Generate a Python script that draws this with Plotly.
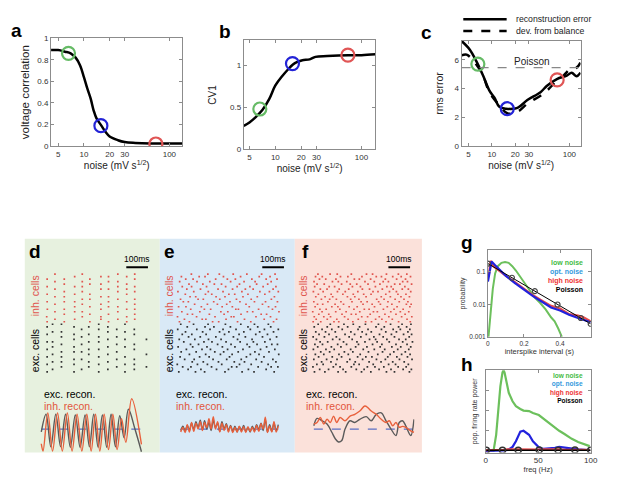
import plotly.graph_objects as go

W, H = 617, 480
FONT = "Liberation Sans, Arial, sans-serif"

# ---------------- data: noise sweep (panels a, b, c) ----------------
marked_noise = [6.6, 15.8, 69.5]
marked_colors = ["#66bb66", "#2323d6", "#e05555"]

a_noise = [4.1, 5, 6, 7, 8, 9, 10, 11, 12, 13, 14, 16, 18, 20, 25, 30, 40, 60, 100, 142]
a_vcorr = [0.89, 0.89, 0.875, 0.86, 0.82, 0.75, 0.64, 0.53, 0.44, 0.33, 0.26, 0.19, 0.13, 0.09,
           0.055, 0.038, 0.03, 0.025, 0.024, 0.024]
a_marked = [0.86, 0.19, 0.02]

b_noise = [4.3, 5, 6, 7.1, 8.5, 10, 12.1, 14, 16, 18, 20.6, 25, 29.2, 40, 70, 100, 145]
b_cv1 = [0.28, 0.32, 0.39, 0.47, 0.6, 0.76, 0.875, 0.95, 1.01, 1.04, 1.06, 1.07, 1.1, 1.11, 1.12, 1.12, 1.13]
b_marked = [0.48, 1.02, 1.12]

c_noise = [4.07, 5.2, 6.3, 7.7, 9.3, 10.8, 12.5, 15.2, 21.4, 28.7, 42.4, 51.5, 69, 92.5, 107, 124, 139]
c_recon_err = [7.3, 6.7, 5.9, 4.9, 3.86, 3.36, 2.73, 2.6, 2.66, 3.2, 3.75, 4.2, 4.66, 4.9, 5.1, 4.85, 5.1]
c_noise_dev = [4.07, 4.72, 6.3, 7.7, 9.3, 12.5, 16, 21.4, 28.7, 42.4, 51.5, 69, 84, 102, 124, 139]
c_dev_balance = [6.3, 6.36, 5.68, 4.9, 3.75, 2.84, 2.27, 2.39, 2.95, 3.5, 3.86, 4.55, 4.9, 5.34, 5.45, 5.8]
c_marked = [5.7, 2.6, 4.6]
poisson_rms = 5.45

# ---------------- data: rasters (spike times in ms, one list per cell) ----------------
d_inh = [
    [35, 114, 232, 318, 402], [71, 162, 283, 361, 439], [33, 197, 283, 402],
    [114, 232, 318, 439], [71, 162, 197, 361], [36, 114, 283, 402, 439],
    [162, 232, 318, 361], [71, 197, 283, 439], [35, 114, 162, 318, 402],
    [197, 232, 361, 439], [71, 114, 283, 318], [35, 162, 232, 402],
    [114, 197, 361, 439], [71, 283, 318, 402], [35, 162, 197, 361, 439],
    [114, 232, 283, 402], [71, 197, 318, 361], [35, 114, 232, 439],
    [162, 283, 318, 402], [71, 197, 361, 439],
]
d_exc = [
    [35, 159, 273, 394], [60, 194, 315, 437], [101, 227, 356, 493],
    [35, 159, 273, 394, 437], [60, 101, 227, 315], [159, 194, 356, 437],
    [35, 101, 273, 394], [60, 227, 315, 493], [101, 159, 194, 356],
    [35, 227, 273, 437], [60, 159, 315, 394], [101, 194, 356, 437],
    [35, 60, 227, 273], [159, 315, 394, 493], [101, 194, 273, 356],
    [35, 159, 227, 437], [60, 101, 315, 394], [194, 273, 356, 437],
    [35, 159, 227, 315], [60, 101, 273, 394],
]
e_inh = [
    [18, 64, 171, 199, 286, 347, 452], [41, 123, 140, 233, 318, 409, 466],
    [9, 97, 182, 257, 269, 371, 438], [55, 78, 156, 224, 302, 395, 420],
    [29, 112, 209, 241, 331, 356, 477], [70, 133, 162, 278, 290, 383, 447],
    [14, 48, 119, 215, 262, 340, 429, 461], [88, 147, 193, 236, 325, 401],
    [36, 59, 176, 251, 297, 364, 415, 470], [23, 104, 128, 204, 281, 349, 442],
    [67, 93, 187, 228, 311, 377, 456], [45, 138, 167, 246, 273, 334, 412],
    [11, 84, 151, 219, 306, 389, 433, 474], [52, 115, 196, 263, 322, 358, 450],
    [31, 74, 143, 231, 284, 343, 404, 463], [62, 126, 179, 212, 295, 374, 425],
    [19, 99, 158, 254, 316, 367, 441], [47, 81, 185, 239, 276, 352, 418, 468],
    [27, 109, 136, 221, 300, 386, 436], [73, 149, 202, 266, 329, 397, 459],
]
e_exc = [
    [15, 92, 134, 228, 307, 362, 455], [58, 117, 189, 244, 336, 418],
    [33, 71, 166, 259, 282, 381, 441, 472], [8, 101, 147, 213, 295, 349, 427],
    [77, 128, 198, 271, 318, 397, 463], [42, 86, 173, 236, 303, 372, 449],
    [21, 111, 155, 249, 327, 408], [64, 139, 207, 261, 345, 385, 476],
    [26, 95, 181, 222, 289, 366, 431], [50, 122, 161, 240, 311, 392, 458],
    [12, 79, 145, 216, 274, 341, 420], [69, 106, 194, 256, 330, 376, 444, 470],
    [38, 131, 168, 233, 298, 359, 412], [17, 89, 152, 210, 286, 353, 436],
    [60, 114, 186, 267, 322, 401, 466], [31, 75, 141, 226, 293, 370, 424],
    [46, 125, 203, 246, 315, 388, 452], [10, 98, 159, 219, 279, 345, 410, 474],
    [54, 136, 177, 253, 334, 379, 439], [24, 83, 150, 230, 301, 364, 428],
]
f_inh = [
    [53, 88, 149, 171, 236, 295, 322, 389, 447, 501], [67, 118, 162, 214, 261, 341, 370, 418, 486],
    [58, 102, 133, 198, 277, 304, 358, 402, 461, 508], [79, 125, 186, 229, 250, 316, 384, 435, 477],
    [51, 94, 157, 205, 268, 331, 349, 411, 455, 494], [84, 113, 176, 241, 289, 311, 377, 426, 468],
    [62, 139, 167, 219, 256, 336, 395, 440, 499], [73, 97, 154, 193, 283, 325, 363, 416, 483, 505],
    [56, 121, 181, 232, 274, 302, 355, 398, 450, 490], [91, 129, 160, 226, 264, 346, 380, 431, 472],
    [65, 108, 143, 211, 245, 297, 367, 409, 458, 497], [77, 136, 190, 238, 286, 320, 388, 444, 481],
    [54, 99, 165, 201, 259, 329, 352, 405, 437, 503], [86, 117, 173, 217, 280, 313, 372, 422, 464, 492],
    [60, 127, 152, 234, 271, 340, 393, 413, 476], [71, 104, 184, 224, 254, 306, 361, 429, 453, 507],
    [57, 142, 169, 208, 292, 335, 376, 400, 466, 488], [82, 111, 158, 243, 266, 318, 386, 438, 479],
    [64, 95, 179, 213, 278, 344, 368, 420, 459, 502], [75, 131, 164, 229, 299, 327, 391, 446, 485],
]
f_exc = [
    [59, 107, 168, 203, 276, 319, 391, 428, 497], [83, 124, 191, 252, 288, 357, 412, 468, 506],
    [52, 146, 177, 229, 303, 338, 379, 445, 482], [70, 99, 158, 241, 265, 330, 401, 433, 492],
    [92, 135, 210, 247, 311, 366, 420, 473], [56, 115, 163, 222, 281, 345, 386, 451, 509],
    [78, 141, 184, 258, 296, 324, 397, 439, 488], [63, 102, 172, 215, 270, 351, 408, 461, 500],
    [88, 129, 197, 236, 308, 373, 425, 478], [54, 112, 150, 226, 284, 335, 383, 443, 494],
    [74, 137, 181, 249, 301, 362, 416, 457, 503], [61, 96, 166, 207, 262, 327, 370, 435, 486],
    [85, 120, 193, 255, 292, 348, 404, 466, 511], [68, 143, 175, 233, 313, 341, 393, 449, 480],
    [53, 105, 160, 219, 273, 333, 376, 428, 496], [80, 126, 200, 244, 298, 359, 414, 470, 507],
    [65, 110, 155, 227, 279, 321, 388, 437, 490], [94, 139, 187, 260, 306, 368, 422, 455, 499],
    [58, 118, 170, 212, 267, 343, 381, 447, 484], [76, 132, 195, 238, 294, 354, 410, 463, 504],
]

# ---------------- data: population reconstructions ----------------
d_t_exc = [8, 30, 52, 75, 97, 120, 142, 165, 187, 210, 230, 250, 270, 290, 310, 330, 350, 370, 390, 410, 440, 470]
d_exc_rec = [-0.1, 0.5, -0.6, 0.5, -0.6, 0.5, -0.62, 0.48, -0.62, 0.48, -0.6, 0.5, -0.62, 0.48, -0.62,
             0.5, -0.6, 0.45, -0.3, 0.67, 0.0, -0.77]
d_t_inh = [8, 16, 38, 60, 83, 105, 128, 150, 173, 195, 218, 238, 258, 278, 298, 318, 338, 358, 378, 398, 425, 470]
d_inh_rec = [-0.5, -0.75, 0.55, -0.75, 0.55, -0.75, 0.55, -0.75, 0.5, -0.75, 0.5, -0.75, 0.5, -0.75, 0.5,
             -0.7, 0.5, -0.7, 0.35, -0.45, 1.03, -0.52]

e_t = [24, 34, 44, 54, 64, 74, 84, 94, 104, 114, 124, 134, 144, 154, 164, 174, 184, 194, 204, 214, 224, 234, 244,
       254, 264, 274, 284, 294, 304, 314, 324, 334, 344, 354, 364, 374, 384, 394, 404, 414, 424, 434, 444, 454, 464, 474]
e_exc_rec = [-0.05, 0.1, -0.08, 0.12, -0.05, 0.2, -0.02, 0.25, 0.05, 0.3, -0.02, 0.28, 0.0, 0.22, -0.05, 0.3, 0.05,
             0.2, -0.08, 0.25, 0.0, 0.18, -0.05, 0.12, -0.08, 0.1, -0.1, 0.08, -0.05, 0.12, -0.08, 0.05, -0.1, 0.1,
             -0.05, 0.15, -0.02, 0.2, -0.05, 0.32, -0.1, 0.15, -0.08, 0.2, -0.05, 0.15]
e_inh_rec = [-0.1, 0.05, -0.12, 0.15, -0.1, 0.22, -0.08, 0.2, 0.0, 0.25, -0.05, 0.22, 0.05, 0.35, 0.0, 0.42, 0.0,
             0.25, -0.1, 0.2, -0.05, 0.15, -0.1, 0.1, -0.12, 0.05, -0.1, 0.1, -0.1, 0.08, -0.12, 0.08, -0.08, 0.05,
             -0.1, 0.12, -0.08, 0.18, 0.0, 0.4, -0.12, 0.1, -0.1, 0.25, -0.1, 0.1]

f_t_exc = [56, 71, 94, 117, 139, 155, 170, 185, 200, 223, 245, 268, 298, 321, 344, 367, 389, 412, 435, 450, 465, 480, 503, 518]
f_exc_rec = [0.11, 0.36, 0.28, 0.17, -0.11, -0.33, -0.44, -0.39, 0.0, 0.28, 0.22, 0.33, 0.42, 0.28, 0.5, 0.55,
             0.28, 0.0, -0.22, 0.22, 0.28, 0.11, -0.22, 0.33]
f_t_inh = [56, 71, 86, 102, 117, 132, 147, 162, 177, 200, 223, 245, 268, 291, 306, 321, 344, 367, 389, 404, 420,
           435, 450, 465, 480, 503, 518]
f_inh_rec = [0.17, 0.22, 0.39, 0.17, 0.33, 0.22, 0.44, 0.22, 0.39, 0.28, 0.44, 0.5, 0.61, 0.78, 0.72, 0.61, 0.5,
             0.33, 0.22, 0.28, 0.11, 0.22, 0.06, 0.09, 0.06, -0.06, -0.11]

# ---------------- data: ISI distribution (g) ----------------
g_low_isi = [0.003, 0.015, 0.027, 0.04, 0.055, 0.075, 0.095, 0.115, 0.135, 0.155, 0.18, 0.2, 0.228, 0.26, 0.29,
             0.32, 0.35, 0.37, 0.39, 0.41]
g_low_p = [0.001, 0.006, 0.03, 0.09, 0.15, 0.19, 0.2, 0.19, 0.15, 0.11, 0.07, 0.05, 0.028, 0.016, 0.011, 0.007,
           0.004, 0.003, 0.0018, 0.001]
g_opt_isi = [0, 0.01, 0.02, 0.04, 0.07, 0.1, 0.15, 0.2, 0.25, 0.3, 0.35, 0.4, 0.45, 0.5, 0.55, 0.57]
g_opt_p = [0.05, 0.12, 0.21, 0.16, 0.11, 0.075, 0.045, 0.028, 0.018, 0.012, 0.008, 0.0065, 0.0048, 0.0038,
           0.0031, 0.0028]
g_high_isi = [0.005, 0.015, 0.03, 0.06, 0.1, 0.15, 0.2, 0.25, 0.3, 0.35, 0.4, 0.45, 0.5, 0.53, 0.57]
g_high_p = [0.08, 0.22, 0.15, 0.11, 0.075, 0.048, 0.03, 0.019, 0.013, 0.009, 0.0075, 0.005, 0.0045, 0.004, 0.003]
g_pois_isi = [0, 0.133, 0.26, 0.386, 0.515, 0.57]
g_pois_p = [0.18, 0.066, 0.0256, 0.0099, 0.0038, 0.0025]

# ---------------- data: population power spectra (h) ----------------
h_freq = [0, 5, 7.5, 10, 12, 14, 16, 17, 18, 20, 22, 25.6, 28.8, 33, 36, 41.3, 45, 50.6, 55, 60, 66, 70, 75,
          82, 88, 94, 99]
h_low = [0, 0, 0.0, 0.2, 0.5, 0.8, 0.97, 1.0, 0.97, 0.85, 0.72, 0.615, 0.555, 0.52, 0.5, 0.494, 0.47, 0.445,
         0.4, 0.35, 0.29, 0.25, 0.21, 0.15, 0.11, 0.08, 0.06]
h_opt = [0, 0, 0, 0, 0, 0.0, 0.005, 0.007, 0.01, 0.01, 0.02, 0.05, 0.12, 0.24, 0.25, 0.2, 0.12, 0.045, 0.025,
         0.03, 0.04, 0.05, 0.04, 0.03, 0.02, 0.015, 0.01]
h_high = [0.01, 0.01, 0.01, 0.012, 0.015, 0.012, 0.015, 0.013, 0.015, 0.02, 0.018, 0.02, 0.022, 0.02, 0.025,
          0.02, 0.022, 0.018, 0.02, 0.022, 0.018, 0.02, 0.015, 0.018, 0.015, 0.015, 0.012]
h_pois_freq = [0.6, 16, 31, 51, 69, 85, 100]
h_pois = [0.01, 0.01, 0.01, 0.012, 0.01, 0.011, 0.01]


def px_x(a, b):
    return [a / W, b / W]


def px_y(top, bottom):
    return [1 - bottom / H, 1 - top / H]


def label(fig, x, y, text, size=10.5, color="black", angle=0, xanchor="center"):
    fig.add_annotation(x=x / W, y=1 - y / H, xref="paper", yref="paper", text=text, showarrow=False,
                       textangle=angle, xanchor=xanchor, yanchor="middle", font=dict(size=size, color=color))


box = dict(showline=True, linecolor="#8c8c8c", linewidth=1, mirror="ticks", ticks="inside", ticklen=3,
           tickcolor="#8c8c8c", showgrid=False, zeroline=False, tickfont=dict(size=8, color="#333"))
hidden = dict(visible=False, showgrid=False, zeroline=False)

fig = go.Figure()

## a, b, c
lw = 2.5
fig.add_trace(go.Scatter(x=a_noise, y=a_vcorr, mode="lines", line=dict(color="black", width=lw, shape="spline"),
                         xaxis="x", yaxis="y"))
fig.add_trace(go.Scatter(x=b_noise, y=b_cv1, mode="lines", line=dict(color="black", width=lw, shape="spline"),
                         xaxis="x2", yaxis="y2"))
fig.add_trace(go.Scatter(x=c_noise_dev, y=c_dev_balance, mode="lines",
                         line=dict(color="black", width=lw, dash="dash", shape="spline"), xaxis="x3", yaxis="y3"))
fig.add_trace(go.Scatter(x=c_noise, y=c_recon_err, mode="lines", line=dict(color="black", width=lw, shape="spline"),
                         xaxis="x3", yaxis="y3"))
fig.add_shape(type="line", xref="x3 domain", yref="y3", x0=0, x1=1, y0=poisson_rms, y1=poisson_rms,
              line=dict(color="#888", width=1.2, dash="dash"))
for ax, vals in [("", a_marked), ("2", b_marked), ("3", c_marked)]:
    fig.add_trace(go.Scatter(x=marked_noise, y=vals, mode="markers",
                             marker=dict(symbol="circle-open", size=13, color=marked_colors, line=dict(width=2.2)),
                             xaxis="x" + ax, yaxis="y" + ax))

## rasters d, e, f
inh_col, exc_col = "#e0554e", "#333333"
exc_line, inh_line, base_col = "#5a5a5a", "#e8603c", "#5b6fc4"
panels = [(d_inh, d_exc, d_t_exc, d_exc_rec, d_t_inh, d_inh_rec, 4),
          (e_inh, e_exc, e_t, e_exc_rec, e_t, e_inh_rec, 6),
          (f_inh, f_exc, f_t_exc, f_exc_rec, f_t_inh, f_inh_rec, 8)]
for inh, exc, te, ve, ti, vi, n in panels:
    xs, ys = [], []
    for i, tr in enumerate(exc):
        xs += tr
        ys += [i] * len(tr)
    fig.add_trace(go.Scatter(x=xs, y=ys, mode="markers", marker=dict(symbol="square", size=1.7, color=exc_col),
                             xaxis=f"x{n}", yaxis=f"y{n}"))
    xs, ys = [], []
    for i, tr in enumerate(inh):
        xs += tr
        ys += [len(exc) + i] * len(tr)
    fig.add_trace(go.Scatter(x=xs, y=ys, mode="markers", marker=dict(symbol="square", size=1.7, color=inh_col),
                             xaxis=f"x{n}", yaxis=f"y{n}"))
    # 100 ms scale bar
    fig.add_trace(go.Scatter(x=[400, 500], y=[41.8, 41.8], mode="lines", line=dict(color="black", width=2),
                             xaxis=f"x{n}", yaxis=f"y{n}"))
    fig.add_annotation(x=450, y=41.8, xref=f"x{n}", yref=f"y{n}", text="100ms", showarrow=False, yshift=8,
                       font=dict(size=8.5, color="black"))
    t0, t1 = min(te[0], ti[0]), max(te[-1], ti[-1])
    fig.add_trace(go.Scatter(x=[t0, t1], y=[0, 0], mode="lines", line=dict(color=base_col, width=1.2, dash="dash"),
                             xaxis=f"x{n+1}", yaxis=f"y{n+1}"))
    fig.add_trace(go.Scatter(x=te, y=ve, mode="lines", line=dict(color=exc_line, width=1.4, shape="spline"),
                             xaxis=f"x{n+1}", yaxis=f"y{n+1}"))
    fig.add_trace(go.Scatter(x=ti, y=vi, mode="lines", line=dict(color=inh_line, width=1.4, shape="spline"),
                             xaxis=f"x{n+1}", yaxis=f"y{n+1}"))

## g
fig.add_trace(go.Scatter(x=g_low_isi, y=g_low_p, mode="lines", line=dict(color="#6cc05c", width=2),
                         xaxis="x10", yaxis="y10"))
fig.add_trace(go.Scatter(x=g_high_isi, y=g_high_p, mode="lines", line=dict(color="#e84c4c", width=2.2),
                         xaxis="x10", yaxis="y10"))
fig.add_trace(go.Scatter(x=g_opt_isi, y=g_opt_p, mode="lines", line=dict(color="#2222dd", width=2.2),
                         xaxis="x10", yaxis="y10"))
fig.add_trace(go.Scatter(x=g_pois_isi, y=g_pois_p, mode="lines+markers", line=dict(color="black", width=1),
                         marker=dict(symbol="circle-open", size=5, color="#444", line=dict(width=1.2)),
                         xaxis="x10", yaxis="y10"))
## h
fig.add_trace(go.Scatter(x=h_freq, y=h_low, mode="lines", line=dict(color="#6cc05c", width=2.2),
                         xaxis="x11", yaxis="y11"))
fig.add_trace(go.Scatter(x=h_freq, y=h_opt, mode="lines", line=dict(color="#2222dd", width=2.2),
                         xaxis="x11", yaxis="y11"))
fig.add_trace(go.Scatter(x=h_freq, y=h_high, mode="lines", line=dict(color="#e84c4c", width=2),
                         xaxis="x11", yaxis="y11"))
fig.add_trace(go.Scatter(x=h_pois_freq, y=h_pois, mode="lines+markers", line=dict(color="black", width=1.5),
                         marker=dict(symbol="circle-open", size=6, color="#333", line=dict(width=1.5)),
                         xaxis="x11", yaxis="y11"))

noise_title = dict(text="noise (mV s<sup>1/2</sup>)", font=dict(size=10, color="#222"), standoff=2)
noise_ticks = dict(type="log", tickvals=[5, 10, 20, 30, 100], ticktext=["5", "10", "20", "30", "100"])
layout_axes = dict(
    xaxis=dict(box, domain=px_x(41.7, 175), range=[0.616, 2.153], title=noise_title, **noise_ticks, anchor="y"),
    yaxis=dict(box, domain=px_y(26.7, 136.7), range=[0, 1], dtick=0.2, anchor="x",
               title=dict(text="voltage correlation", font=dict(size=11.5, color="#222"), standoff=5)),
    xaxis2=dict(box, domain=px_x(237.3, 370.7), range=[0.634, 2.16], title=noise_title, **noise_ticks, anchor="y2"),
    yaxis2=dict(box, domain=px_y(29, 140), range=[0, 1.295], tickvals=[0, 0.5, 1], anchor="x2",
                title=dict(text="CV1", font=dict(size=10, color="#222"), standoff=11)),
    xaxis3=dict(box, domain=px_x(458.3, 579), range=[0.61, 2.144], title=noise_title, **noise_ticks, anchor="y3"),
    yaxis3=dict(box, domain=px_y(29.3, 136.7), range=[0, 7.32], tickvals=[0, 2, 4, 6], anchor="x3",
                title=dict(text="rms error", font=dict(size=10.5, color="#222"), standoff=8)),
    xaxis10=dict(box, domain=px_x(485, 589.3), range=[0, 0.57], tickvals=[0, 0.2, 0.4], anchor="y10",
                 tickfont=dict(size=6.5, color="#333"),
                 title=dict(text="interspike interval (s)", font=dict(size=7.5, color="#333"), standoff=2)),
    yaxis10=dict(box, type="log", domain=px_y(242.7, 331), range=[-3, -0.33], anchor="x10",
                 tickvals=[0.001, 0.01, 0.1], ticktext=["0.001", "0.01", "0.1"], tickfont=dict(size=6.5, color="#333"),
                 title=dict(text="probability", font=dict(size=7, color="#333"), standoff=2)),
    xaxis11=dict(box, domain=px_x(482.7, 589.3), range=[0, 100], tickvals=[0, 50, 100], anchor="y11",
                 tickfont=dict(size=8, color="#333"),
                 title=dict(text="freq (Hz)", font=dict(size=7.5, color="#333"), standoff=2)),
    yaxis11=dict(box, domain=px_y(365, 449), range=[-0.02, 1.0], tickvals=[0.25, 0.5, 0.75], showticklabels=False,
                 anchor="x11", title=dict(text="pop. firing rate power", font=dict(size=7, color="#333"), standoff=6)),
)
for n, start in [(4, 30), (6, 168), (8, 296)]:
    dom = px_x(start, start + 520 * 0.22)
    layout_axes[f"xaxis{n}"] = dict(hidden, domain=dom, range=[0, 520], anchor=f"y{n}")
    layout_axes[f"yaxis{n}"] = dict(hidden, domain=px_y(257, 368), range=[-0.5, 43], anchor=f"x{n}")
    layout_axes[f"xaxis{n+1}"] = dict(hidden, domain=dom, range=[0, 520], anchor=f"y{n+1}")
    layout_axes[f"yaxis{n+1}"] = dict(hidden, domain=px_y(388, 452), range=[-0.9, 1.233], anchor=f"x{n+1}")

fig.update_layout(width=W, height=H, margin=dict(l=0, r=0, t=0, b=0), showlegend=False,
                  paper_bgcolor="white", plot_bgcolor="rgba(0,0,0,0)", font=dict(family=FONT, color="black"),
                  **layout_axes)

# panel backgrounds
for x0, x1, col in [(15, 152, "#e7f1df"), (152, 289, "#d9e9f6"), (289, 418, "#fbe1da")]:
    fig.add_shape(type="rect", xref="paper", yref="paper", x0=x0 / W, x1=x1 / W, y0=1 - 449 / H, y1=1 - 231 / H,
                  fillcolor=col, line=dict(width=0), layer="below")

# legend for c
for yy, dash, text in [(7.3, "solid", "reconstruction error"), (19.3, "dash", "dev. from balance")]:
    fig.add_shape(type="line", xref="paper", yref="paper", x0=460 / W, x1=504 / W, y0=1 - yy / H, y1=1 - yy / H,
                  line=dict(color="black", width=2.5, dash=dash))
    label(fig, 511, yy, text, size=8.7, color="#222", xanchor="left")
label(fig, 530, 50, "Poisson", size=10, color="#222")

# panel letters
for txt, x, y in [("a", 7, 19), ("b", 218, 20), ("c", 423, 21), ("d", 25, 244), ("e", 162, 244),
                  ("f", 300, 244), ("g", 464, 235), ("h", 464, 359)]:
    label(fig, x, y, f"<b>{txt}</b>", size=19)

# raster / recon labels
for xl, xr in [(25, 32), (161, 166), (297, 298)]:
    label(fig, xl, 289, "inh. cells", color=inh_col, angle=-90)
    label(fig, xl, 345, "exc. cells", angle=-90)
    label(fig, xr, 389, "exc. recon.", xanchor="left")
    label(fig, xr, 402, "inh. recon.", color="#e2553b", xanchor="left")

# g / h legends
legend_items = [("low noise", "#44bb44"), ("opt. noise", "#3399dd"), ("high noise", "#ee3333"), ("Poisson", "black")]
legend_text = "<br>".join(f"<span style='color:{c}'><b>{t}</b></span>" for t, c in legend_items)
for y_mid, size in [(269.5, 7), (383.5, 6.5)]:
    fig.add_annotation(x=584 / W, y=1 - y_mid / H, xref="paper", yref="paper", text=legend_text, align="right",
                       xanchor="right", yanchor="middle", showarrow=False, font=dict(size=size))

fig.write_html("out.html")
